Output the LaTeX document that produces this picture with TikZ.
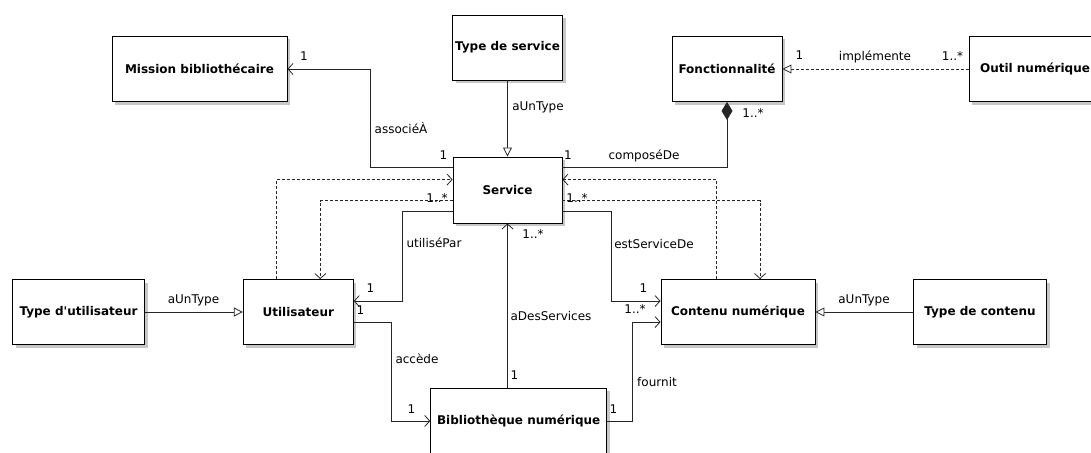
\documentclass[tikz,border=0pt]{standalone}
\usepackage{fontspec}
\setmainfont{DejaVu Sans}
\usetikzlibrary{arrows.meta,shadows}

\tikzset{
  classe/.style={draw=black, line width=0.9pt, fill=white, minimum height=65pt,
    inner sep=0pt, font=\fontsize{12}{14}\selectfont\bfseries,
    drop shadow={shadow xshift=3pt, shadow yshift=-3pt, fill=black!22, opacity=1}},
  lien/.style={draw=black!85, line width=0.8pt},
  assoc/.style={lien, -{Straight Barb[length=5pt, width=11pt]}},
  gen/.style={lien, -{Triangle[open, length=9pt, width=9pt, fill=white]}},
  dep/.style={assoc, dash pattern=on 3pt off 2pt},
  real/.style={gen, dash pattern=on 3pt off 2pt},
  comp/.style={lien, {Diamond[length=18pt, width=11pt]}-},
  lbl/.style={font=\fontsize{12}{14}\selectfont, inner sep=0pt, text height=8.5pt, text depth=2.5pt}
}

\begin{document}
\begin{tikzpicture}[x=1pt, y=-1pt]
  \useasboundingbox (0,0) rectangle (1091,452);

  \node[classe, minimum width=175pt] (mission) at (199.5,69) {Mission bibliothécaire};
  \node[classe, minimum width=110pt] (tserv) at (507.5,47.5) {Type de service};
  \node[classe, minimum width=110pt] (fonct) at (727,69) {Fonctionnalité};
  \node[classe, minimum width=132pt] (outil) at (1035,69) {Outil numérique};
  \node[classe, minimum width=109pt, minimum height=66pt] (serv) at (507.5,190) {Service};
  \node[classe, minimum width=132pt] (tutil) at (78.5,312) {Type d\textquotesingle utilisateur};
  \node[classe, minimum width=110pt] (util) at (298.3,312) {Utilisateur};
  \node[classe, minimum width=154pt] (cont) at (738,312) {Contenu numérique};
  \node[classe, minimum width=133pt] (tcont) at (980,312) {Type de contenu};
  \node[classe, minimum width=176pt, minimum height=66pt] (biblio) at (518.7,421) {Bibliothèque numérique};

  \draw[assoc] ([yshift=-11pt]serv.north west) -| ([xshift=83pt]mission.east) -- (mission.east);
  \draw[gen] (tserv) -- (serv);
  \draw[real] (outil.west) -- (fonct.east);
  \draw[comp] (fonct.south) |- ([yshift=-11pt]serv.north east);
  \draw[dep] ([xshift=-22pt]util.north) |- ([yshift=-23pt]serv.north west);
  \draw[dep] ([yshift=-44pt]serv.north west) -| ([xshift=22pt]util.north);
  \draw[dep] ([xshift=-22pt]cont.north) |- ([yshift=-23pt]serv.north east);
  \draw[dep] ([yshift=-44pt]serv.north east) -| ([xshift=22pt]cont.north);
  \draw[assoc] ([yshift=-55pt]serv.north west) -| ([xshift=49pt,yshift=-22pt]util.north east) -- ([yshift=-22pt]util.north east);
  \draw[assoc] ([yshift=-55pt]serv.north east) -| ([xshift=-49pt,yshift=-22pt]cont.north west) -- ([yshift=-22pt]cont.north west);
  \draw[assoc] ([yshift=-43pt]util.north east) -| ([xshift=-39pt]biblio.west) -- (biblio.west);
  \draw[assoc] (serv.south |- biblio.north) -- (serv.south);
  \draw[assoc] (biblio.east) -| ([xshift=-28pt,yshift=-43pt]cont.north west) -- ([yshift=-43pt]cont.north west);
  \draw[gen] (tutil) -- (util);
  \draw[gen] (tcont) -- (cont);

  % roles et multiplicites
  \node[lbl] (m-mission) at (304,57.5) {1};
  \node[lbl] (r-assoc) at (401,130) {associéÀ};
  \node[lbl] (m-assoc) at (443.5,156.5) {1};
  \node[lbl] (r-tserv) at (538,107) {aUnType};
  \node[lbl] (m-dep-util) at (437,199) {1..*};
  \node[lbl] (m-compose) at (568,156.5) {1};
  \node[lbl] (r-compose) at (644,156.5) {composéDe};
  \node[lbl] (m-fonct) at (753,114) {1..*};
  \node[lbl] (m-impl) at (799.5,56.5) {1};
  \node[lbl] (r-impl) at (875,57) {implémente};
  \node[lbl] (m-outil) at (952.5,57.5) {1..*};
  \node[lbl] (m-dep-cont) at (577,199) {1..*};
  \node[lbl] (r-utilise) at (434,244) {utiliséPar};
  \node[lbl] (m-services) at (533,235) {1..*};
  \node[lbl] (m-utilise) at (370.5,289) {1};
  \node[lbl] (r-tutil) at (193.5,300) {aUnType};
  \node[lbl] (m-accede) at (360.5,311) {1};
  \node[lbl] (r-accede) at (417,360) {accède};
  \node[lbl] (m-biblio-g) at (411.5,410) {1};
  \node[lbl] (r-services) at (551,317.5) {aDesServices};
  \node[lbl] (m-biblio-h) at (514.5,376.5) {1};
  \node[lbl] (m-biblio-d) at (613.5,410) {1};
  \node[lbl] (r-estserv) at (654,245) {estServiceDe};
  \node[lbl] (m-cont) at (643.5,289) {1};
  \node[lbl] (m-fournit) at (635,310) {1..*};
  \node[lbl] (r-fournit) at (657,383) {fournit};
  \node[lbl] (r-tcont) at (864,300) {aUnType};
\end{tikzpicture}
\end{document}
